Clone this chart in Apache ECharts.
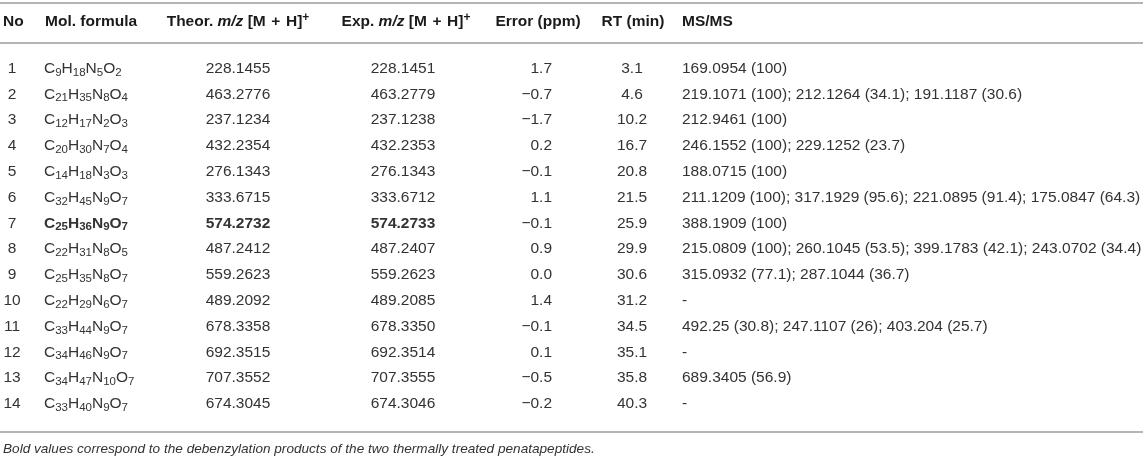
<!DOCTYPE html>
<html>
<head>
<meta charset="utf-8">
<script src="https://cdn.jsdelivr.net/npm/echarts@6/dist/echarts.min.js"></script>
<style>
  html, body { margin: 0; padding: 0; background: #fff; }
  #main { width: 1143px; height: 458px; }
</style>
</head>
<body>
<div id="main"></div>
<script>
// table data
var nos = ['1', '2', '3', '4', '5', '6', '7', '8', '9', '10', '11', '12', '13', '14'];
var formulas = ['C9H18N5O2', 'C21H35N8O4', 'C12H17N2O3', 'C20H30N7O4', 'C14H18N3O3', 'C32H45N9O7', 'C25H36N9O7',
    'C22H31N8O5', 'C25H35N8O7', 'C22H29N6O7', 'C33H44N9O7', 'C34H46N9O7', 'C34H47N10O7', 'C33H40N9O7'];
var theor = [228.1455, 463.2776, 237.1234, 432.2354, 276.1343, 333.6715, 574.2732, 487.2412, 559.2623, 489.2092,
    678.3358, 692.3515, 707.3552, 674.3045];
var expMz = [228.1451, 463.2779, 237.1238, 432.2353, 276.1343, 333.6712, 574.2733, 487.2407, 559.2623, 489.2085,
    678.3350, 692.3514, 707.3555, 674.3046];
var errors = [1.7, -0.7, -1.7, 0.2, -0.1, 1.1, -0.1, 0.9, 0.0, 1.4, -0.1, 0.1, -0.5, -0.2];
var rt = [3.1, 4.6, 10.2, 16.7, 20.8, 21.5, 25.9, 29.9, 30.6, 31.2, 34.5, 35.1, 35.8, 40.3];
var msms = [
    '169.0954 (100)',
    '219.1071 (100); 212.1264 (34.1); 191.1187 (30.6)',
    '212.9461 (100)',
    '246.1552 (100); 229.1252 (23.7)',
    '188.0715 (100)',
    '211.1209 (100); 317.1929 (95.6); 221.0895 (91.4); 175.0847 (64.3)',
    '388.1909 (100)',
    '215.0809 (100); 260.1045 (53.5); 399.1783 (42.1); 243.0702 (34.4)',
    '315.0932 (77.1); 287.1044 (36.7)',
    '-',
    '492.25 (30.8); 247.1107 (26); 403.204 (25.7)',
    '-',
    '689.3405 (56.9)',
    '-'
];
var boldRows = ['7'];
var footnote = 'Bold values correspond to the debenzylation products of the two thermally treated penatapeptides.';

var FONT = '"Liberation Sans", Arial, sans-serif';
var FS = 15.5;
var TEXT = '#333';
var HEAD = '#1a1a1a';
var RULE = '#b4b4b4';

// column anchors (layout only)
var cols = {
    no: { x: 12, align: 'center' },
    formula: { x: 44, align: 'left' },
    theor: { x: 238, align: 'center' },
    exp: { x: 403, align: 'center' },
    error: { x: 552, align: 'right' },
    rt: { x: 632, align: 'center' },
    msms: { x: 682, align: 'left' }
};

function richBase(bold, color) {
    var w = bold ? 'bold' : 'normal';
    return {
        c: { fontSize: FS, lineHeight: 20, fontWeight: w, fontFamily: FONT, color: color },
        s: { fontSize: 11.5, lineHeight: 8, verticalAlign: 'bottom', fontWeight: w, fontFamily: FONT, color: color },
        i: { fontSize: FS, lineHeight: 20, fontStyle: 'italic', fontWeight: w, fontFamily: FONT, color: color },
        p: { fontSize: 12, lineHeight: 11, verticalAlign: 'top', fontWeight: w, fontFamily: FONT, color: color }
    };
}

function formulaRich(f) {
    return f.replace(/([A-Z][a-z]?)(\d*)/g, function (m, el, n) {
        return '{c|' + el + '}' + (n ? '{s|' + n + '}' : '');
    });
}

function fmtErr(v) {
    return v < 0 ? '\u2212' + Math.abs(v).toFixed(1) : v.toFixed(1);
}

function cellText(x, y, align, text, bold, rich) {
    var st = {
        x: x, y: y, text: text, align: align, verticalAlign: 'middle',
        fill: TEXT, fontSize: FS, fontFamily: FONT, fontWeight: bold ? 'bold' : 'normal'
    };
    if (rich) st.rich = richBase(bold, TEXT);
    return { type: 'text', style: st };
}

var myChart = echarts.init(document.getElementById('main'));

var rowData = nos.map(function (n, i) { return [0, i]; });

// header texts
var headers = [
    { text: 'No', x: 3, align: 'left' },
    { text: 'Mol. formula', x: 45, align: 'left' },
    { text: '{c|Theor. }{i|m/z}{c| [M \u200a+\u200a H]}{p|+}', x: 238, align: 'center' },
    { text: '{c|Exp. }{i|m/z}{c| [M \u200a+\u200a H]}{p|+}', x: 406, align: 'center' },
    { text: 'Error (ppm)', x: 538, align: 'center' },
    { text: 'RT (min)', x: 633, align: 'center' },
    { text: 'MS/MS', x: 682, align: 'left' }
];
var headRich = richBase(true, HEAD);

var graphics = headers.map(function (h) {
    return {
        type: 'text',
        style: {
            x: h.x, y: 22, text: h.text, align: h.align, verticalAlign: 'middle',
            fill: HEAD, fontSize: FS, fontWeight: 'bold', fontFamily: FONT, rich: headRich
        }
    };
});
[3, 43, 432].forEach(function (y) {
    graphics.push({
        type: 'line',
        shape: { x1: 0, y1: y, x2: 1143, y2: y },
        style: { stroke: RULE, lineWidth: 2 }
    });
});
graphics.push({
    type: 'text',
    style: {
        x: 3, y: 449, text: footnote, align: 'left', verticalAlign: 'middle',
        fill: TEXT, fontSize: 13.6, fontStyle: 'italic', fontFamily: FONT
    }
});

var option = {
    animation: false,
    grid: { left: 0, right: 0, top: 55.6, bottom: 41.2, containLabel: false },
    xAxis: { type: 'value', min: 0, max: 1143, show: false },
    yAxis: { type: 'category', data: nos, inverse: true, show: false },
    graphic: graphics,
    series: [
        {
            type: 'custom',
            data: rowData,
            encode: { x: 0, y: 1 },
            renderItem: function (params, api) {
                var i = params.dataIndex;
                var bold = boldRows.indexOf(nos[i]) >= 0;
                var y = api.coord([0, i])[1];
                var px = function (c) { return api.coord([cols[c].x, i])[0]; };
                return {
                    type: 'group',
                    children: [
                        cellText(px('no'), y, cols.no.align, nos[i], false),
                        cellText(px('formula'), y, cols.formula.align, formulaRich(formulas[i]), bold, true),
                        cellText(px('theor'), y, cols.theor.align, theor[i].toFixed(4), bold),
                        cellText(px('exp'), y, cols.exp.align, expMz[i].toFixed(4), bold),
                        cellText(px('error'), y, cols.error.align, fmtErr(errors[i]), false),
                        cellText(px('rt'), y, cols.rt.align, rt[i].toFixed(1), false),
                        cellText(px('msms'), y, cols.msms.align, msms[i], false)
                    ]
                };
            }
        }
    ]
};

myChart.setOption(option);
</script>
</body>
</html>
